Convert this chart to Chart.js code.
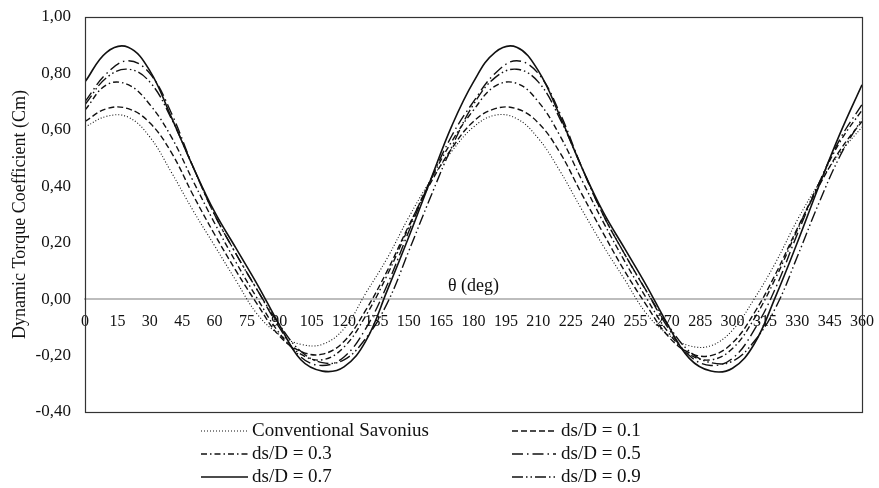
<!DOCTYPE html>
<html>
<head>
<meta charset="utf-8">
<script src="https://cdn.jsdelivr.net/npm/chart.js@4.4.0/dist/chart.umd.min.js"></script>
<style>
html,body{margin:0;padding:0;background:#fff;}
#wrap{width:879px;height:488px;position:relative;}
</style>
</head>
<body>
<div id="wrap"><canvas id="c" width="879" height="488"></canvas></div>
<script>
// ---- data ----
const theta = [0,10,20,30,40,50,60,70,80,90,100,110,120,130,140,150,160,170,180,
               190,200,210,220,230,240,250,260,270,280,290,300,310,320,330,340,350,360];
const seriesLabels = ['Conventional Savonius','ds/D = 0.1','ds/D = 0.3','ds/D = 0.5','ds/D = 0.7','ds/D = 0.9'];
const conventional = [0.61,0.648,0.645,0.575,0.45,0.315,0.19,0.065,-0.055,-0.125,-0.16,-0.16,-0.105,0.02,0.145,0.29,0.42,0.525,0.61,
                      0.652,0.64,0.57,0.455,0.32,0.19,0.07,-0.05,-0.125,-0.165,-0.165,-0.11,0.0,0.13,0.28,0.41,0.52,0.61];
const ds01 = [0.63,0.675,0.675,0.625,0.52,0.37,0.23,0.10,-0.02,-0.13,-0.185,-0.195,-0.15,-0.04,0.10,0.26,0.41,0.535,0.63,
              0.675,0.675,0.625,0.52,0.375,0.235,0.10,-0.02,-0.13,-0.19,-0.20,-0.155,-0.05,0.09,0.25,0.40,0.53,0.63];
const ds03 = [0.67,0.76,0.76,0.69,0.575,0.42,0.27,0.13,0.0,-0.12,-0.195,-0.215,-0.17,-0.06,0.085,0.255,0.42,0.56,0.67,
              0.755,0.765,0.70,0.58,0.425,0.275,0.135,0.005,-0.115,-0.195,-0.215,-0.175,-0.07,0.075,0.245,0.41,0.56,0.67];
const ds05 = [0.70,0.80,0.845,0.80,0.66,0.47,0.30,0.16,0.03,-0.10,-0.205,-0.235,-0.205,-0.105,0.05,0.24,0.42,0.58,0.70,
              0.80,0.845,0.80,0.66,0.47,0.30,0.16,0.03,-0.10,-0.20,-0.235,-0.21,-0.11,0.04,0.23,0.41,0.57,0.69];
const ds07 = [0.77,0.875,0.893,0.81,0.645,0.47,0.31,0.18,0.05,-0.09,-0.215,-0.255,-0.24,-0.15,0.03,0.22,0.42,0.615,0.77,
              0.875,0.893,0.81,0.65,0.47,0.31,0.18,0.05,-0.09,-0.21,-0.255,-0.245,-0.16,0.01,0.20,0.40,0.59,0.76];
const ds09 = [0.69,0.785,0.815,0.77,0.64,0.47,0.30,0.16,0.03,-0.09,-0.185,-0.225,-0.215,-0.14,-0.015,0.17,0.36,0.54,0.69,
              0.785,0.815,0.77,0.64,0.47,0.30,0.16,0.03,-0.09,-0.185,-0.225,-0.22,-0.15,-0.03,0.15,0.34,0.51,0.64];
const xTickStep = 15;
const yTickLabels = ['-0,40','-0,20','0,00','0,20','0,40','0,60','0,80','1,00'];

const FONT = "'Liberation Serif','Times New Roman',serif";
const styles = [
  {dash:[1,2], width:1.1},
  {dash:[6,3], width:1.4},
  {dash:[6,3,1.5,3], width:1.4},
  {dash:[11,4,1.5,4], width:1.4},
  {dash:[], width:1.6},
  {dash:[11,3,1.5,3,1.5,3], width:1.4}
];
const allSeries = [conventional, ds01, ds03, ds05, ds07, ds09];

const datasets = allSeries.map((vals,i)=>({
  label: seriesLabels[i],
  data: theta.map((t,k)=>({x:t, y:vals[k]})),
  borderColor:'#111',
  borderWidth: styles[i].width,
  borderDash: styles[i].dash,
  pointRadius:0,
  tension:0.4,
  fill:false
}));

const framePlugin = {
  id:'frame',
  afterDraw(chart){
    const {ctx, chartArea:a, scales} = chart;
    ctx.save();
    ctx.strokeStyle = '#333';
    ctx.lineWidth = 1.2;
    ctx.setLineDash([]);
    ctx.strokeRect(a.left+0.5, a.top+0.5, a.right-a.left, a.bottom-a.top);
    // x axis title above zero line
    const y0 = scales.y.getPixelForValue(0);
    ctx.fillStyle = '#111';
    ctx.font = "18px " + FONT;
    ctx.textAlign = 'center';
    ctx.textBaseline = 'alphabetic';
    ctx.fillText('θ (deg)', (a.left+a.right)/2, y0-8);
    // legend
    ctx.font = "19px " + FONT;
    ctx.textAlign = 'left';
    ctx.textBaseline = 'middle';
    const cols = [{x0:201,x1:248,tx:252},{x0:512,x1:556,tx:561}];
    const rows = [431,454,477];
    chart.data.datasets.forEach((ds,i)=>{
      const c = cols[i%2], r = rows[Math.floor(i/2)];
      ctx.strokeStyle = '#111';
      ctx.lineWidth = ds.borderWidth;
      ctx.setLineDash(ds.borderDash);
      ctx.beginPath();
      ctx.moveTo(c.x0, r);
      ctx.lineTo(c.x1, r);
      ctx.stroke();
      ctx.setLineDash([]);
      ctx.fillText(ds.label, c.tx, r);
    });
    ctx.restore();
  }
};

new Chart(document.getElementById('c'), {
  type:'line',
  data:{datasets},
  plugins:[framePlugin],
  options:{
    responsive:false,
    animation:false,
    layout:{padding:{left:0,right:17,top:17,bottom:76}},
    plugins:{legend:{display:false}, tooltip:{enabled:false}},
    scales:{
      x:{
        type:'linear',
        position:{y:0},
        min:0, max:360,
        afterFit(s){ s.paddingLeft = 0; s.paddingRight = 0; },
        grid:{display:false, drawTicks:false},
        border:{display:true, color:'#bdbdbd', width:2},
        ticks:{stepSize:xTickStep, autoSkip:false, maxRotation:0, padding:13,
               color:'#111', font:{family:FONT, size:16}}
      },
      y:{
        type:'linear',
        min:-0.4, max:1.0,
        afterFit(s){ s.width = 85; s.paddingTop = 0; s.paddingBottom = 0; },
        grid:{display:false, drawTicks:false},
        border:{display:false},
        ticks:{stepSize:0.2, padding:14, color:'#111', font:{family:FONT, size:17},
               callback(v){ const i = Math.round((v+0.4)/0.2); return yTickLabels[i]; }},
        title:{display:true, text:'Dynamic Torque Coefficient (Cm)', color:'#111',
               font:{family:FONT, size:18}, padding:{top:9,bottom:0}}
      }
    }
  }
});
</script>
</body>
</html>
